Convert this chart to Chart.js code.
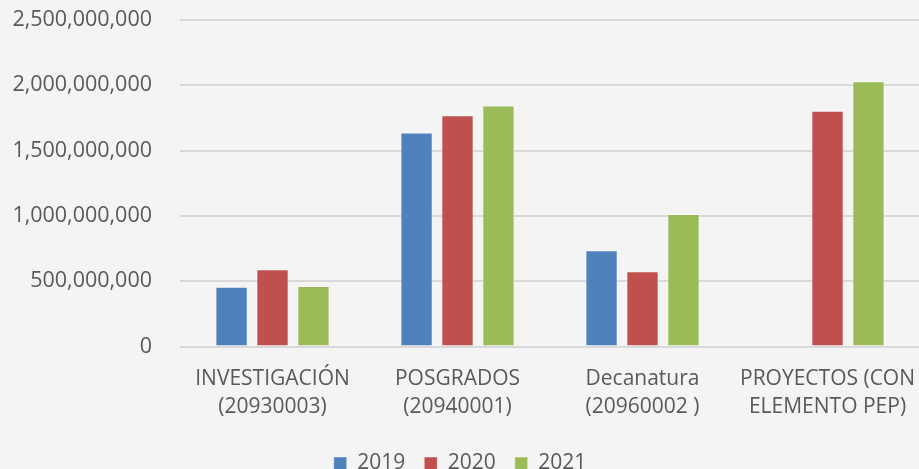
<!DOCTYPE html>
<html>
<head>
<meta charset="utf-8">
<script src="https://cdn.jsdelivr.net/npm/chart.js@4"></script>
<style>
  html, body { margin: 0; padding: 0; width: 919px; height: 469px; overflow: hidden; background: #f4f4f4; }
  #wrap { position: absolute; left: -6px; top: 0; width: 932px; height: 484px; }
</style>
</head>
<body>
<div id="wrap"><canvas id="c" width="932" height="484"></canvas></div>
<script>
const categories = [
  ['INVESTIGACIÓN', '(20930003)'],
  ['POSGRADOS', '(20940001)'],
  ['Decanatura', '(20960002 )'],
  ['PROYECTOS (CON', 'ELEMENTO PEP)']
];
const seriesNames = ['2019', '2020', '2021'];
const values2019 = [458000000, 1639000000, 738000000, null];
const values2020 = [592000000, 1770000000, 576000000, 1806000000];
const values2021 = [463000000, 1846000000, 1014000000, 2031000000];
const yTicks = [0, 500000000, 1000000000, 1500000000, 2000000000, 2500000000];
const colors = ['#4f81bd', '#c0504d', '#9bbb59'];

const textColor = '#595959';
const fontFamily = '"Open Sans", sans-serif';

new Chart(document.getElementById('c'), {
  type: 'bar',
  data: {
    labels: categories,
    datasets: [values2019, values2020, values2021].map((v, i) => ({
      label: seriesNames[i],
      data: v,
      backgroundColor: colors[i],
      borderColor: 'rgba(255,255,255,0.45)',
      borderWidth: 1,
      categoryPercentage: 0.664,
      barPercentage: 0.79
    }))
  },
  options: {
    responsive: false,
    devicePixelRatio: 1,
    animation: false,
    layout: { padding: { top: 20, left: 0, right: 0, bottom: 0 } },
    plugins: {
      tooltip: { enabled: false },
      legend: {
        position: 'bottom',
        labels: {
          color: textColor,
          font: { family: fontFamily, size: 21 },
          boxWidth: 13,
          boxHeight: 13,
          padding: 19
        }
      }
    },
    scales: {
      x: {
        afterFit(scale) { scale.height += 2; },
        grid: { display: false },
        border: { display: false },
        ticks: {
          color: textColor,
          font: { family: fontFamily, size: 21, lineHeight: 1.32 },
          padding: 11,
          maxRotation: 0,
          autoSkip: false
        }
      },
      y: {
        min: 0,
        max: 2500000000,
        afterFit(scale) { scale.width = 186; },
        afterBuildTicks(scale) { scale.ticks = yTicks.map(v => ({ value: v })); },
        grid: { color: '#d9d9d9', lineWidth: 2, drawTicks: true, tickLength: 28, tickColor: 'rgba(0,0,0,0)' },
        border: { display: false },
        ticks: {
          color: textColor,
          font: { family: fontFamily, size: 21.5 },
          padding: 0,
          callback: v => Number(v).toLocaleString('en-US')
        }
      }
    }
  }
});
</script>
</body>
</html>
